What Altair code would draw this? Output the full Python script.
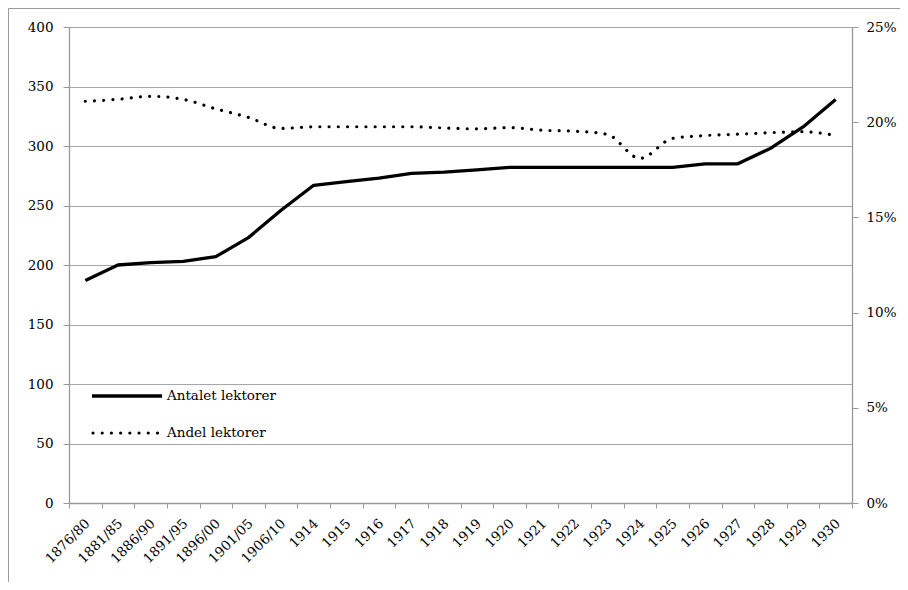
import altair as alt
import pandas as pd

periods = ["1876/80", "1881/85", "1886/90", "1891/95", "1896/00", "1901/05", "1906/10",
           "1914", "1915", "1916", "1917", "1918", "1919", "1920", "1921", "1922",
           "1923", "1924", "1925", "1926", "1927", "1928", "1929", "1930"]
antalet = [187, 200, 202, 203, 207, 223, 246, 267, 270, 273, 277, 278, 280, 282,
           282, 282, 282, 282, 282, 285, 285, 298, 316, 339]
andel = [21.1, 21.2, 21.36, 21.2, 20.7, 20.25, 19.67, 19.76, 19.76, 19.76, 19.76, 19.7,
         19.65, 19.72, 19.58, 19.53, 19.36, 18.1, 19.15, 19.3, 19.37, 19.45, 19.5, 19.3]
series_names = ["Antalet lektorer", "Andel lektorer"]
left_ticks = [0, 50, 100, 150, 200, 250, 300, 350, 400]
right_ticks = [0, 5, 10, 15, 20, 25]

df = pd.DataFrame({"Period": periods, "Antalet": antalet, "Andel": andel})

FONT = "DejaVu Serif"
FS = 13.5
GRID = "#a6a6a6"
AX = "#979797"
W, H = 783, 476
DOT = [0.01, 9.2]

x_enc = alt.X(
    "Period:N", sort=periods, bandPosition=0.5,
    scale=alt.Scale(type="band", paddingInner=0, paddingOuter=0),
    axis=alt.Axis(title=None, labelAngle=-45, labelAlign="right", labelBaseline="middle",
                  tickBand="extent", domainColor=AX, tickColor=AX, tickSize=5,
                  labelPadding=13, labelFont=FONT, labelFontSize=FS, labelColor="black",
                  grid=False, labelOverlap=False, domainWidth=1.3, labelOffset=2),
)

base = alt.Chart(df)

line1 = base.mark_line(color="black", strokeWidth=3.3, interpolate="linear",
                       strokeJoin="round").encode(
    x=x_enc,
    y=alt.Y("Antalet:Q", scale=alt.Scale(domain=[0, 400], nice=False),
            axis=alt.Axis(title=None, values=left_ticks, grid=True, gridColor=GRID,
                          gridWidth=1.2, domainColor=AX, domainWidth=1.3, tickColor=AX,
                          tickSize=6, labelPadding=10, labelFont=FONT, labelFontSize=FS,
                          labelColor="black")),
)

line2 = base.mark_line(color="black", strokeWidth=3.2, strokeDash=DOT, strokeCap="round",
                       interpolate="monotone").encode(
    x=x_enc,
    y=alt.Y("Andel:Q", scale=alt.Scale(domain=[0, 25], nice=False),
            axis=alt.Axis(title=None, orient="right", values=right_ticks, grid=False,
                          labelExpr="datum.value + '%'", domainColor=AX, domainWidth=1.3,
                          tickColor=AX, tickSize=6, labelPadding=8, labelFont=FONT,
                          labelFontSize=FS, labelColor="black")),
)

one = alt.Data(values=[{}])

leg1 = alt.Chart(one).mark_rule(color="black", strokeWidth=3.3).encode(
    x=alt.value(23), x2=alt.value(93), y=alt.value(369))
leg2 = alt.Chart(one).mark_rule(color="black", strokeWidth=3.2, strokeDash=DOT,
                                strokeCap="round").encode(
    x=alt.value(24), x2=alt.value(90), y=alt.value(406))
legt1 = alt.Chart(one).mark_text(align="left", baseline="middle", font=FONT, fontSize=FS,
                                 color="black").encode(
    x=alt.value(98), y=alt.value(369), text=alt.value(series_names[0]))
legt2 = alt.Chart(one).mark_text(align="left", baseline="middle", font=FONT, fontSize=FS,
                                 color="black").encode(
    x=alt.value(98), y=alt.value(406), text=alt.value(series_names[1]))

frame_left = alt.Chart(one).mark_rule(color="#9a9a9a", strokeWidth=1).encode(
    x=alt.value(-60.5), y=alt.value(-18.5), y2=alt.value(556))
frame_top = alt.Chart(one).mark_rule(color="#9a9a9a", strokeWidth=1).encode(
    x=alt.value(-60.5), x2=alt.value(W + 48), y=alt.value(-18.5))

chart = alt.layer(line1, line2, leg1, leg2, legt1, legt2, frame_left, frame_top).resolve_scale(
    y="independent"
).properties(
    width=W, height=H, autosize="none",
    padding={"left": 61, "top": 19, "right": 48, "bottom": 79},
).configure_view(stroke="transparent")

chart.save("out.html", embed_options={"renderer": "svg", "actions": False})
